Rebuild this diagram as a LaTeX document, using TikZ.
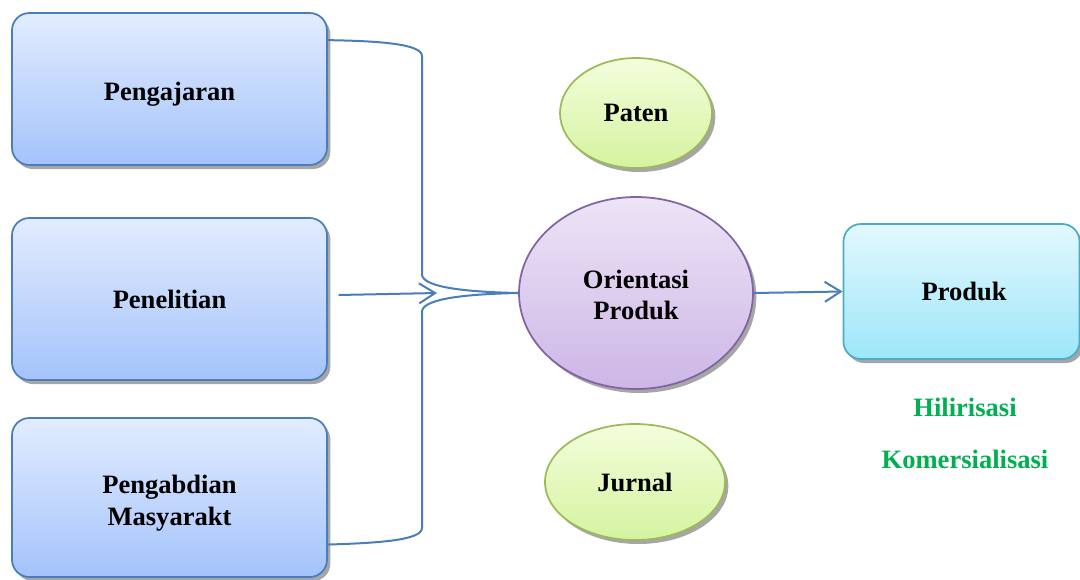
\documentclass[tikz,border=0pt]{standalone}
\usepackage{fontspec}
\setmainfont{Liberation Serif}
\usetikzlibrary{shapes.geometric,shadows,arrows.meta}
\definecolor{boxtop}{HTML}{E2ECFE}
\definecolor{boxbot}{HTML}{A4C3FB}
\definecolor{boxline}{HTML}{4A7EBB}
\definecolor{prodtop}{HTML}{E3F8FE}
\definecolor{prodbot}{HTML}{9DE6FA}
\definecolor{prodline}{HTML}{4BACC6}
\definecolor{gtop}{HTML}{F4FEDC}
\definecolor{gbot}{HTML}{D5F3A0}
\definecolor{gline}{HTML}{9BBB59}
\definecolor{ptop}{HTML}{EDE4F6}
\definecolor{pbot}{HTML}{CDB6E6}
\definecolor{pline}{HTML}{8064A2}
\definecolor{hgreen}{RGB}{0,176,80}
\newcommand{\twolines}[4]{\raisebox{#3}[0pt][0pt]{\renewcommand{\arraystretch}{#4}\begin{tabular}{@{}c@{}}#1\\#2\end{tabular}}}
\newcommand{\lowtext}[2]{\raisebox{#1}[0pt][0pt]{#2}}
\tikzset{
  lbl/.style={font=\fontsize{19.9}{24}\selectfont\bfseries, align=center, inner sep=0pt},
  shad/.style={drop shadow={shadow xshift=2.5pt, shadow yshift=-3pt, fill=black, opacity=0.35}},
  bluebox/.style={lbl, rectangle, rounded corners=13pt, draw=boxline, line width=1.3pt,
     top color=boxtop, bottom color=boxbot, shad, minimum width=236.25pt},
  prodbox/.style={lbl, rectangle, rounded corners=13pt, draw=prodline, line width=1.3pt,
     top color=prodtop, bottom color=prodbot, shad},
  greenell/.style={lbl, ellipse, draw=gline, line width=1.3pt, top color=gtop, bottom color=gbot, shad},
  purpell/.style={lbl, ellipse, draw=pline, line width=1.3pt, top color=ptop, bottom color=pbot, shad},
  conn/.style={draw=boxline, line width=1.5pt},
  arr/.style={conn, -{Straight Barb[length=12pt,width=15pt,line width=1.5pt]}},
  note/.style={font=\fontsize{19.9}{24}\selectfont\bfseries, text=hgreen, inner sep=0pt}
}
\begin{document}
\begin{tikzpicture}[x=0.75pt,y=-0.75pt]
\useasboundingbox (0,0) rectangle (1080,579);
\node[bluebox, minimum height=114pt] (peng) at (169.5,89) {\lowtext{-8.95pt}{Pengajaran}};
\node[bluebox, minimum height=121.5pt] (pen) at (169.5,299) {Penelitian};
\node[bluebox, minimum height=119.25pt] (abd) at (169.5,497.5) {\twolines{Pengabdian}{Masyarakt}{-9.3pt}{1}};
\node[greenell, minimum width=114pt, minimum height=82.5pt] (pat) at (636,113) {Paten};
\node[purpell, minimum width=175.5pt, minimum height=144pt] (ori) at (636,293) {\twolines{Orientasi}{Produk}{-8.9pt}{0.94}};
\node[greenell, minimum width=135pt, minimum height=87pt] (jur) at (635,482) {Jurnal};
\node[prodbox, minimum width=177pt, minimum height=101.25pt] (prod) at (961.5,291.5) {\hspace*{4pt}Produk};
\node[note] (hil) at (965,407) {Hilirisasi};
\node[note] (kom) at (965,459) {Komersialisasi};
% brace connector
\coordinate (t0) at ([yshift=-21pt]peng.north east);
\coordinate (b0) at ([yshift=25pt]abd.south east);
\coordinate (tv) at (422,56);
\coordinate (tm) at (422,275);
\coordinate (bm) at (422,311);
\coordinate (bv) at (422,528);
\draw[conn] (t0) .. controls (380,41) and (422,44) .. (tv) -- (tm)
   .. controls (424,288) and (470,292) .. (ori.west);
\draw[conn] (b0) .. controls (380,543) and (422,540) .. (bv) -- (bm)
   .. controls (424,298) and (470,294) .. (ori.west);
\coordinate (ps) at ([xshift=8pt,yshift=3pt]pen.east);
\coordinate (pt) at (437,293);
\draw[arr] (ps) -- (pt);
\draw[arr] (ori.east) -- (prod.west);
\end{tikzpicture}
\end{document}
